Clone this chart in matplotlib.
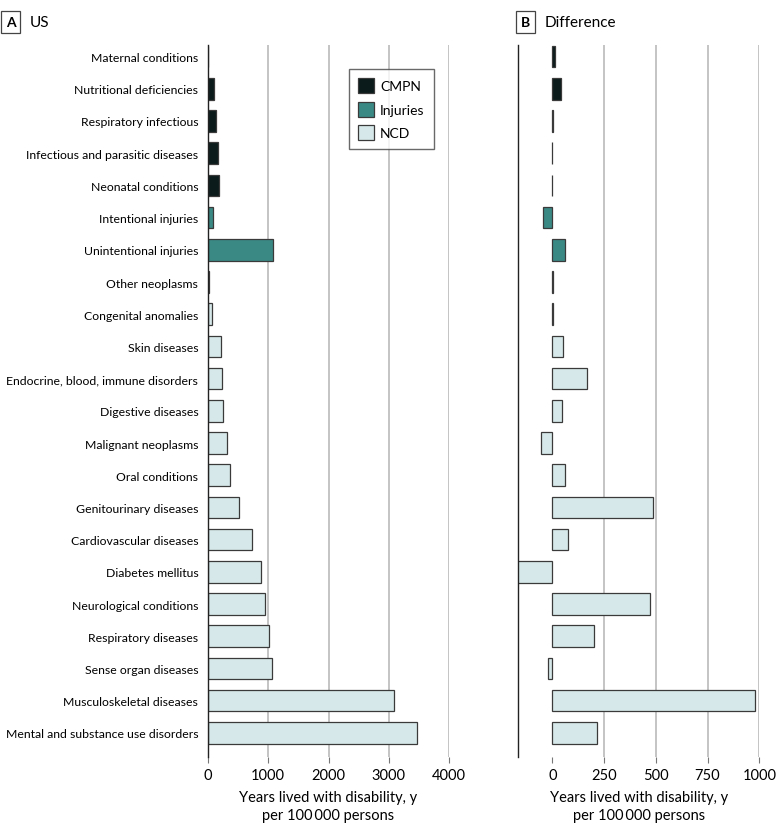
import numpy as np
import matplotlib
matplotlib.use("Agg")
import matplotlib.pyplot as plt
from matplotlib.patches import Patch

plt.rcParams['font.family'] = ['Lato', 'DejaVu Sans']

# categories listed top to bottom
causes = [
    "Maternal conditions", "Nutritional deficiencies", "Respiratory infectious",
    "Infectious and parasitic diseases", "Neonatal conditions", "Intentional injuries",
    "Unintentional injuries", "Other neoplasms", "Congenital anomalies", "Skin diseases",
    "Endocrine, blood, immune disorders", "Digestive diseases", "Malignant neoplasms",
    "Oral conditions", "Genitourinary diseases", "Cardiovascular diseases",
    "Diabetes mellitus", "Neurological conditions", "Respiratory diseases",
    "Sense organ diseases", "Musculoskeletal diseases", "Mental and substance use disorders",
]
groups = ["CMPN"] * 5 + ["Injuries"] * 2 + ["NCD"] * 15
us_yld = [5, 100, 128, 161, 189, 83, 1073, 12, 66, 216, 239, 255, 315, 365, 514,
          736, 885, 945, 1012, 1056, 3091, 3466]
difference = [12, 40, 3, -3, -2, -45, 60, 2, 4, 53, 166, 48, -55, 61, 485,
              74, -170, 472, 200, -22, 979, 217]

colors = {"CMPN": "#0b1a1a", "Injuries": "#3b8985", "NCD": "#d6e8ea"}
edge = "#3a3a3a"
grid_c = "#c4c4c4"

fig = plt.figure(figsize=(7.8, 8.29), dpi=100)
W, H = 780, 829
axA = fig.add_axes([208 / W, 1 - 758 / H, 241 / W, 712 / H])
axB = fig.add_axes([518.3 / W, 1 - 758 / H, 241 / W, 712 / H])

y = np.arange(len(causes))
bar_colors = [colors[g] for g in groups]


def style_axis(ax, xlim, xticks, grid_ticks):
    ax.set_xlim(*xlim)
    ax.set_ylim(len(causes) - 0.25, -0.36)
    for x in grid_ticks:
        ax.axvline(x, color=grid_c, lw=1.4, zorder=0)
    ax.set_xticks(xticks)
    ax.set_xticklabels([str(t) for t in xticks], fontsize=10.5)
    ax.tick_params(axis='x', length=4, color="#777777", pad=4)
    for s in ["top", "right", "bottom"]:
        ax.spines[s].set_visible(False)
    ax.spines["left"].set_color("#222222")
    ax.spines["left"].set_linewidth(1.0)
    ax.set_xlabel("Years lived with disability, y\nper 100\u2009000 persons",
                  fontsize=10.5, labelpad=6, linespacing=1.35)


axA.barh(y, us_yld, height=0.67, color=bar_colors, edgecolor=edge, linewidth=0.9, zorder=2)
style_axis(axA, (0, 4000), [0, 1000, 2000, 3000, 4000], [1000, 2000, 3000, 4000])
axA.set_yticks(y)
axA.set_yticklabels(causes, fontsize=8.8)
axA.tick_params(axis='y', length=0, pad=7)

axB.barh(y, difference, height=0.67, color=bar_colors, edgecolor=edge, linewidth=0.9, zorder=2)
style_axis(axB, (-164, 1000), [0, 250, 500, 750, 1000], [250, 500, 750, 1000])
axB.set_yticks([])

handles = [Patch(facecolor=colors[g], edgecolor=edge, linewidth=0.9, label=g)
           for g in ["CMPN", "Injuries", "NCD"]]
axA.legend(handles=handles, loc="upper left", bbox_to_anchor=(0.585, 0.966),
           borderaxespad=0, fontsize=10, frameon=True, fancybox=False,
           edgecolor="#444444", handlelength=1.15, handleheight=1.3, borderpad=0.65,
           labelspacing=0.6, handletextpad=0.45)

# panel tags
for x0, tag, title in [(6, "A", "US"), (521, "B", "Difference")]:
    fig.text(x0 / W, 1 - 23 / H, tag, fontsize=10, fontweight="bold", va="center",
             ha="left",
             bbox=dict(boxstyle="square,pad=0.35", facecolor="white", edgecolor="#444444", lw=0.9))
    fig.text((x0 + 24) / W, 1 - 23 / H, title, fontsize=11, va="center", ha="left")

fig.savefig("out.png", dpi=100)
